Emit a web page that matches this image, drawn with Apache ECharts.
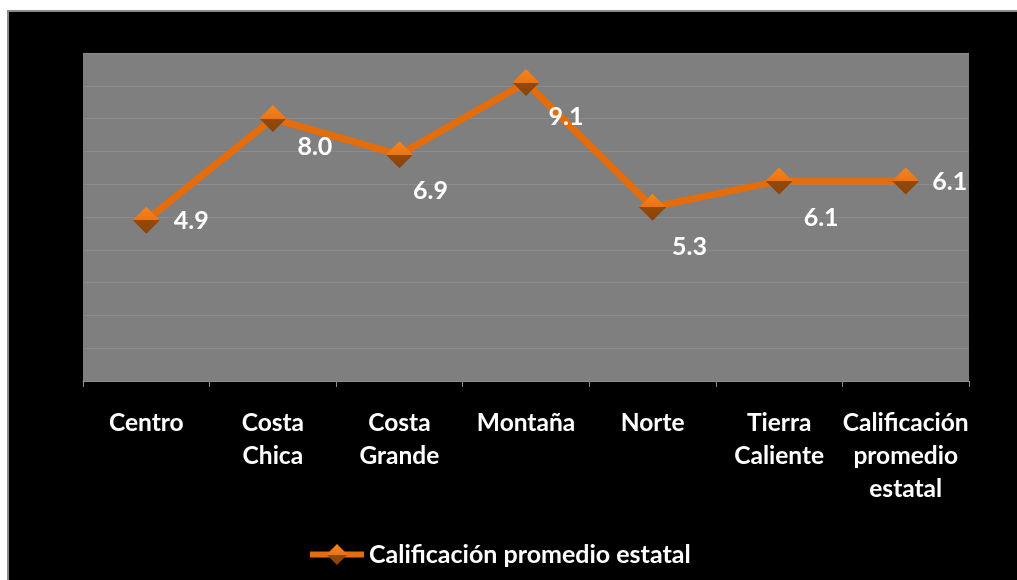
<!DOCTYPE html>
<html>
<head>
<meta charset="utf-8">
<script src="https://cdn.jsdelivr.net/npm/echarts@6/dist/echarts.min.js"></script>
<style>
  html, body { margin:0; padding:0; background:#ffffff; width:1017px; height:580px; overflow:hidden; }
  #frame { position:absolute; left:7px; top:10px; width:1010px; height:570px; background:#000; box-sizing:border-box; border-left:2px solid #8a8a8a; border-top:2px solid #8a8a8a; }
  #chart { position:absolute; left:0; top:0; width:1017px; height:580px; }
</style>
</head>
<body>
<div id="frame"></div>
<div id="chart"></div>
<script>
const categories = ['Centro', 'Costa\nChica', 'Costa\nGrande', 'Montaña', 'Norte', 'Tierra\nCaliente', 'Calificación\npromedio\nestatal'];
const seriesName = 'Calificación promedio estatal';
const values = [4.9, 8.0, 6.9, 9.1, 5.3, 6.1, 6.1];
const yTicks = { min: 0, max: 10, interval: 1 };

// label placement (layout only)
const labelOffsets = [[45, 1], [42, 28], [31, 36], [40, 34], [37, 40], [42, 37], [44, 1]];

const font = 'Lato, "Open Sans", sans-serif';
const markerColor = {
  type: 'linear', x: 0, y: 0, x2: 0, y2: 1,
  colorStops: [
    { offset: 0, color: '#f6841c' },
    { offset: 0.5, color: '#ec7413' },
    { offset: 0.5, color: '#93490a' },
    { offset: 1, color: '#8a4307' }
  ]
};

const chart = echarts.init(document.getElementById('chart'), null, { renderer: 'canvas' });
chart.setOption({
  backgroundColor: 'transparent',
  animation: false,
  grid: {
    left: 83, top: 53, width: 886, height: 328,
    show: true, backgroundColor: '#7f7f7f', borderWidth: 0
  },
  legend: {
    data: [seriesName],
    left: 307, top: 542, padding: 0,
    itemWidth: 54, itemHeight: 26,
    lineStyle: { width: 6, color: '#e46c0a' },
    textStyle: { color: '#ffffff', fontWeight: 'bold', fontSize: 25, fontFamily: font }
  },
  xAxis: {
    type: 'category',
    data: categories,
    boundaryGap: true,
    axisLine: { show: true, lineStyle: { color: '#8c8c8c', width: 1 } },
    axisTick: { show: true, length: 6, lineStyle: { color: '#8c8c8c' } },
    axisLabel: {
      color: '#ffffff', fontWeight: 'bold', fontSize: 24.5, fontFamily: font,
      lineHeight: 33, margin: 26, interval: 0
    },
    splitLine: { show: false }
  },
  yAxis: {
    type: 'value',
    min: yTicks.min, max: yTicks.max, interval: yTicks.interval,
    axisLine: { show: false }, axisTick: { show: false }, axisLabel: { show: false },
    splitLine: { show: true, lineStyle: { color: '#8b8b8b', width: 1 } }
  },
  series: [{
    name: seriesName,
    type: 'line',
    data: values.map((v, i) => ({
      value: v,
      label: { offset: labelOffsets[i] }
    })),
    symbol: 'diamond',
    symbolSize: 27,
    lineStyle: { color: '#e46c0a', width: 7 },
    itemStyle: { color: markerColor, borderWidth: 0 },
    label: {
      show: true, position: 'inside',
      color: '#ffffff', fontWeight: 'bold', fontSize: 25, fontFamily: font,
      formatter: p => Number(p.value).toFixed(1)
    }
  }]
});
</script>
</body>
</html>
